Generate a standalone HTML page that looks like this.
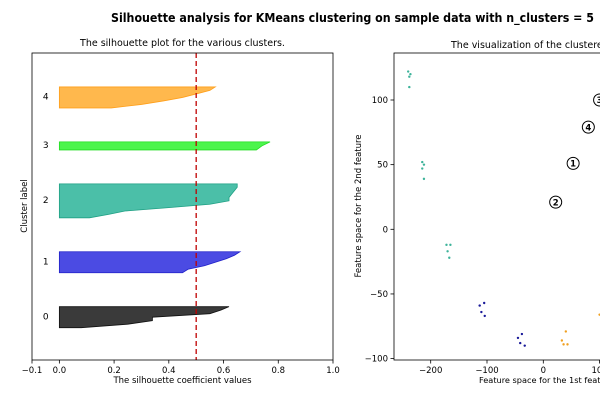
<!DOCTYPE html>
<html><head><meta charset="utf-8"><style>
body{margin:0;background:#fff;width:600px;height:400px;overflow:hidden}
svg text{font-family:"DejaVu Sans","Liberation Sans",sans-serif;fill:#000}
</style></head><body>
<svg id="fig" width="600" height="400" xmlns="http://www.w3.org/2000/svg">
<text x="111" y="22" font-size="12" font-weight="bold" textLength="483" lengthAdjust="spacingAndGlyphs">Silhouette analysis for KMeans clustering on sample data with n_clusters = 5</text>
<g id="left"></g>
<g id="right"></g>
</svg>
<script>
const clusterLabels=[0,1,2,3,4];
const sil0=[0.08,0.25,0.34,0.34,0.55,0.59,0.62];
const sil1=[0.45,0.47,0.53,0.57,0.61,0.64,0.66];
const sil2=[0.11,0.18,0.24,0.40,0.55,0.62,0.62,0.63,0.64,0.65,0.65];
const sil3=[0.72,0.74,0.77];
const sil4=[0.19,0.30,0.38,0.45,0.50,0.55,0.57];
const avgScore=0.5;
const xTicksL=[-0.1,0.0,0.2,0.4,0.6,0.8,1.0];
const ptsX=[-240,-238,-236,-238,-215,-212,-215,-212,-172,-165,-170,-167,-113,-105,-110,-104,-45,-38,-41,-33,40,33,36,43,100];
const ptsY=[122,118,120,110,52,50,47,39,-12,-12,-17,-22,-59,-57,-64,-67,-84,-81,-88,-90,-79,-86,-89,-89,-66];
const ptsC=[2,2,2,2,2,2,2,2,2,2,2,2,1,1,1,1,1,1,1,1,4,4,4,4,4];
const centerX=[53,22,100,80];
const centerY=[51,21,100,79];
const centerLbl=[1,2,3,4];
const xTicksR=[-200,-100,0,100];
const yTicksR=[-100,-50,0,50,100];
const NS="http://www.w3.org/2000/svg";
const fills=['#3a3a3a','#4b4be3','#4bbfa8','#4cf54c','#ffb84d'];
const edges=['#111','#2020c8','#1fa084','#22dd22','#ff9f1a'];
const ptCols=['#333','#1a1a99','#3db39a','#33cc33','#f0a020'];
function el(p,t,a){const e=document.createElementNS(NS,t);for(const k in a)e.setAttribute(k,a[k]);p.appendChild(e);return e;}
const L=document.getElementById('left');
const lx0=32,lx1=333,ly0=53,ly1=360;
const sils=[sil0,sil1,sil2,sil3,sil4];
const yMax=sils.reduce((s,a)=>s+a.length,0)+60;
const xL=v=>lx0+(v+0.1)/1.1*(lx1-lx0);
const yL=v=>ly1-v/yMax*(ly1-ly0);
let yl=10;
sils.forEach((arr,k)=>{
  const n=arr.length;
  let pts=[[xL(0),yL(yl)]];
  arr.forEach((v,i)=>pts.push([xL(v),yL(yl+i*(n>1?(n-1+0.5)/(n-1):1))]));
  pts.push([xL(0),yL(yl+n-0.5)]);
  const p=el(L,'polygon',{points:pts.map(q=>q.join(',')).join(' '),fill:fills[k],stroke:edges[k],'stroke-width':0.8});
  
  
  const t=el(L,'text',{x:xL(-0.05),y:yL(yl+n/2)+3,'font-size':9,'text-anchor':'middle'});
  t.textContent=clusterLabels[k];
  
  
  yl+=n+10;
});
const al=el(L,'line',{x1:xL(avgScore),x2:xL(avgScore),y1:ly0,y2:ly1,stroke:'#c00000','stroke-width':1.3,'stroke-dasharray':'5,3'});


el(L,'rect',{x:lx0,y:ly0,width:lx1-lx0,height:ly1-ly0,fill:'none',stroke:'#000','stroke-width':0.8});
xTicksL.forEach(v=>{
  el(L,'line',{x1:xL(v),x2:xL(v),y1:ly1,y2:ly1+3.5,stroke:'#000','stroke-width':0.8});
  const t=el(L,'text',{x:xL(v),y:ly1+13,'font-size':8.5,'text-anchor':'middle'});
  t.textContent=v<0?'\u2212'+Math.abs(v).toFixed(1):v.toFixed(1);
  
  
});
let t=el(L,'text',{x:(lx0+lx1)/2,y:46,'font-size':9.5,'text-anchor':'middle'});t.textContent='The silhouette plot for the various clusters.';

t=el(L,'text',{x:(lx0+lx1)/2,y:383,'font-size':8.5,'text-anchor':'middle'});t.textContent='The silhouette coefficient values';

t=el(L,'text',{x:0,y:0,'font-size':8.5,'text-anchor':'middle',transform:'translate(27,206) rotate(-90)'});t.textContent='Cluster label';

const R=document.getElementById('right');
const rx0=394,ry0=53,ry1=360;
const xR=v=>543.3+v*0.563;
const yR=v=>229.3-v*1.293;
ptsX.forEach((x,i)=>{
  const c=el(R,'circle',{cx:xR(x),cy:yR(ptsY[i]),r:1.2,fill:ptCols[ptsC[i]]});
  
  
});
centerX.forEach((x,i)=>{
  const g=el(R,'g',{});
  
  
  el(g,'circle',{cx:xR(x),cy:yR(centerY[i]),r:6,fill:'#fff',stroke:'#000','stroke-width':1});
  const tt=el(g,'text',{x:xR(x),y:yR(centerY[i])+3.2,'font-size':8.5,'font-weight':'bold','text-anchor':'middle'});
  tt.textContent=centerLbl[i];
});
el(R,'rect',{x:rx0,y:ry0,width:300,height:ry1-ry0,fill:'none',stroke:'#000','stroke-width':0.8});
xTicksR.forEach(v=>{
  el(R,'line',{x1:xR(v),x2:xR(v),y1:ry1,y2:ry1+3.5,stroke:'#000','stroke-width':0.8});
  const tt=el(R,'text',{x:xR(v),y:ry1+13,'font-size':8.5,'text-anchor':'middle'});
  tt.textContent=v<0?'\u2212'+Math.abs(v):v;
  
  
});
yTicksR.forEach(v=>{
  el(R,'line',{x1:rx0-3.5,x2:rx0,y1:yR(v),y2:yR(v),stroke:'#000','stroke-width':0.8});
  const tt=el(R,'text',{x:rx0-6,y:yR(v)+3,'font-size':8.5,'text-anchor':'end'});
  tt.textContent=v<0?'\u2212'+Math.abs(v):v;
  
  
});
t=el(R,'text',{x:451,y:48,'font-size':9.5});t.textContent='The visualization of the clustered data.';

t=el(R,'text',{x:479,y:383,'font-size':8.2});t.textContent='Feature space for the 1st feature';

t=el(R,'text',{x:0,y:0,'font-size':8.5,'text-anchor':'middle',transform:'translate(361,206) rotate(-90)'});t.textContent='Feature space for the 2nd feature';

</script>
</body></html>
